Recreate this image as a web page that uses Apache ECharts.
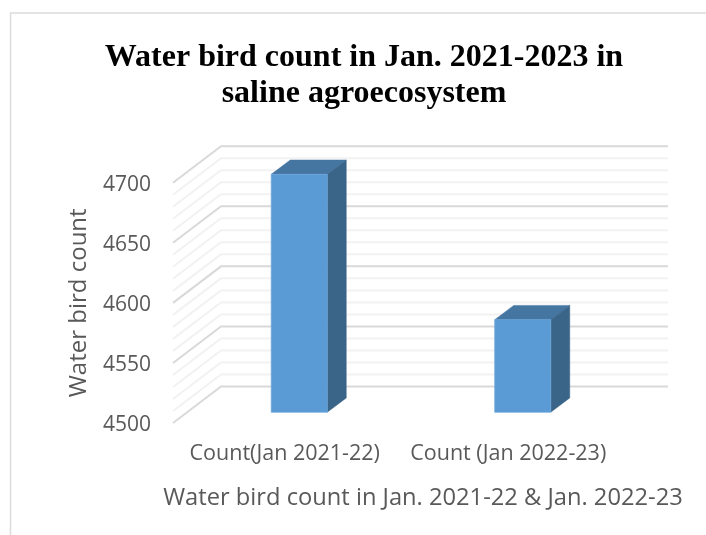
<!DOCTYPE html>
<html><head><meta charset="utf-8">
<style>html,body{margin:0;padding:0;background:#fff}#c{width:706px;height:535px}</style>
<script src="https://cdn.jsdelivr.net/npm/echarts@6/dist/echarts.min.js"></script>
</head><body><div id="c"></div>
<script>
var categories = ['Count(Jan 2021-22)', 'Count (Jan 2022-23)'];
var birdCounts = [4698, 4577];
var gridValues = [4500,4510,4520,4530,4540,4550,4560,4570,4580,4590,4600,4610,4620,4630,4640,4650,4660,4670,4680,4690,4700];
var majorValues = [4500,4550,4600,4650,4700];
var titleLines = 'Water bird count in Jan. 2021-2023 in\nsaline agroecosystem';
var yAxisName = 'Water bird count';
var xAxisName = 'Water bird count in Jan. 2021-22 & Jan. 2022-23';

var WALL_DX = 48, WALL_DY = -36.5;
var BAR_SHIFT_X = 14.5, BAR_SHIFT_Y = -10.8, BAR_W = 56, DEPTH_X = 19, DEPTH_Y = -14.3;

var chart = echarts.init(document.getElementById('c'), null, {renderer: 'canvas'});
chart.setOption({
  animation: false,
  backgroundColor: '#fff',
  title: {
    text: titleLines, left: 359, top: 35, textAlign: 'center',
    textStyle: {fontFamily: 'Liberation Serif', fontWeight: 'bold', fontSize: 32, lineHeight: 36, color: '#000'}
  },
  grid: {left: 173, top: 182.7, width: 447, height: 240.3, containLabel: false},
  xAxis: {
    type: 'category', data: categories,
    axisLine: {show: false}, axisTick: {show: false},
    axisLabel: {margin: 20, fontFamily: 'Open Sans', fontSize: 21.5, color: '#595959', interval: 0},
    name: xAxisName, nameLocation: 'middle', nameGap: 63,
    nameTextStyle: {fontFamily: 'Open Sans', fontSize: 23.7, color: '#595959', padding: [0, 0, 0, 53]}
  },
  yAxis: {
    type: 'value', min: 4500, max: 4700, interval: 50,
    axisLine: {show: false}, axisTick: {show: false}, splitLine: {show: false},
    axisLabel: {margin: 22, fontFamily: 'Open Sans', fontSize: 21, color: '#595959',
      verticalAlign: 'top', lineHeight: 4,
      formatter: function (v) { return String(v); }},
    name: yAxisName, nameLocation: 'middle', nameGap: 82,
    nameTextStyle: {fontFamily: 'Open Sans', fontSize: 24, color: '#595959'}
  },
  series: [
    {
      type: 'custom', z: 1, silent: true, clip: false,
      data: gridValues,
      encode: {y: 0},
      renderItem: function (params, api) {
        var v = api.value(0);
        var a = api.coord([0, v]);
        var x0 = params.coordSys.x, x1 = x0 + params.coordSys.width;
        var major = majorValues.indexOf(v) >= 0;
        var st = {stroke: major ? '#d9d9d9' : '#f2f2f2', lineWidth: 2, fill: null};
        return {
          type: 'polyline', z2: major ? 2 : 1,
          shape: {points: [[x0, a[1]], [x0 + WALL_DX, a[1] + WALL_DY], [x1 + WALL_DX, a[1] + WALL_DY]]},
          style: st
        };
      }
    },
    {
      type: 'custom', z: 5, silent: true, clip: false,
      data: birdCounts.map(function (v, i) { return [i, v]; }),
      encode: {x: 0, y: 1},
      renderItem: function (params, api) {
        var top = api.coord([api.value(0), api.value(1)]);
        var base = api.coord([api.value(0), 4500]);
        var l = top[0] + BAR_SHIFT_X - BAR_W / 2, r = l + BAR_W;
        var t = top[1] + BAR_SHIFT_Y, b = base[1] + BAR_SHIFT_Y;
        return {type: 'group', children: [
          {type: 'polygon', shape: {points: [[l, t], [r, t], [r + DEPTH_X, t + DEPTH_Y], [l + DEPTH_X, t + DEPTH_Y]]},
           style: {fill: '#4575a1', stroke: '#4575a1', lineWidth: 0.5}},
          {type: 'polygon', shape: {points: [[r, t], [r + DEPTH_X, t + DEPTH_Y], [r + DEPTH_X, b + DEPTH_Y], [r, b]]},
           style: {fill: '#3a6588', stroke: '#3a6588', lineWidth: 0.5}},
          {type: 'rect', shape: {x: l, y: t, width: BAR_W, height: b - t},
           style: {fill: '#5b9bd5', stroke: '#6aa5da', lineWidth: 0.8}}
        ]};
      }
    }
  ],
  graphic: [{
    type: 'polyline', silent: true, z: 0,
    shape: {points: [[10.5, 535], [10.5, 13], [706, 13]]},
    style: {stroke: '#dcdcdc', lineWidth: 1.5, fill: null}
  }]
});
</script></body></html>
